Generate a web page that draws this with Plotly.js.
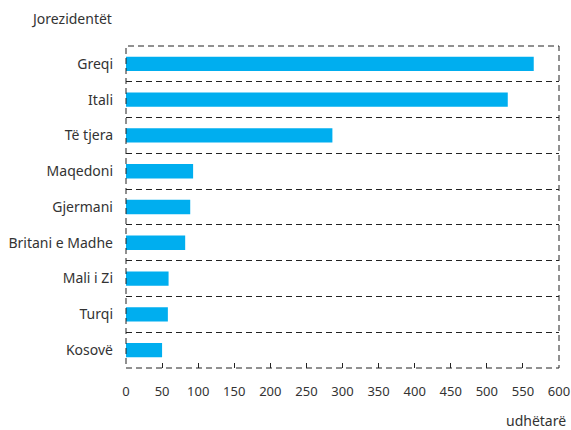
<!DOCTYPE html>
<html>
<head>
<meta charset="utf-8">
<script src="https://cdn.plot.ly/plotly-3.0.1.min.js"></script>
<style>html,body{margin:0;padding:0;background:#fff;}#chart{width:571px;height:430px;}</style>
</head>
<body>
<div id="chart"></div>
<script>
const categories = ["Greqi", "Itali", "Të tjera", "Maqedoni", "Gjermani", "Britani e Madhe", "Mali i Zi", "Turqi", "Kosovë"];
const values = [565, 529, 286, 93, 89, 82, 59, 58, 50];
const xTicks = [0, 50, 100, 150, 200, 250, 300, 350, 400, 450, 500, 550, 600];
const yTitle = "Jorezidentët";
const xTitle = "udhëtarë";

const font = "Noto Sans, sans-serif";
const trace = {
  type: "bar",
  orientation: "h",
  x: values,
  y: categories,
  marker: {color: "#00AEEF"},
  width: 0.4,
  hoverinfo: "x+y"
};
const layout = {
  width: 571, height: 430,
  margin: {l: 125.5, r: 11.5, t: 46, b: 62, pad: 0},
  paper_bgcolor: "#fff", plot_bgcolor: "#fff",
  font: {family: font, size: 14, color: "#333"},
  showlegend: false,
  xaxis: {
    range: [0, 600], tickvals: xTicks, ticktext: xTicks.map(String),
    ticks: "inside", ticklen: 5, tickcolor: "#222", tickwidth: 1,
    showgrid: false, zeroline: false, showline: false,
    ticklabelstandoff: 14, ticklabeloverflow: "allow",
    tickfont: {family: font, size: 13, color: "#333"},
    fixedrange: true
  },
  yaxis: {
    type: "category", categoryorder: "array", categoryarray: categories,
    autorange: "reversed",
    tickson: "boundaries", ticks: "", showgrid: true,
    gridcolor: "#222", griddash: "6px,4px", gridwidth: 1,
    zeroline: false, showline: false, ticklabelstandoff: 12,
    tickfont: {family: font, size: 14, color: "#333"},
    fixedrange: true
  },
  shapes: [{
    type: "rect", xref: "paper", yref: "paper", x0: 0, x1: 1, y0: 0, y1: 1,
    line: {color: "#222", width: 1, dash: "6px,4px"}, layer: "above"
  }],
  annotations: [
    {text: yTitle, xref: "paper", yref: "paper", x: 0, y: 1, xanchor: "right", yanchor: "middle",
     xshift: -12.5, yshift: 28, showarrow: false, font: {family: font, size: 14, color: "#333"}},
    {text: xTitle, xref: "paper", yref: "paper", x: 1, y: 0, xanchor: "right", yanchor: "middle",
     xshift: 8.5, yshift: -52, showarrow: false, font: {family: font, size: 14, color: "#333"}}
  ]
};
Plotly.newPlot("chart", [trace], layout, {displayModeBar: false, staticPlot: true});
</script>
</body>
</html>
